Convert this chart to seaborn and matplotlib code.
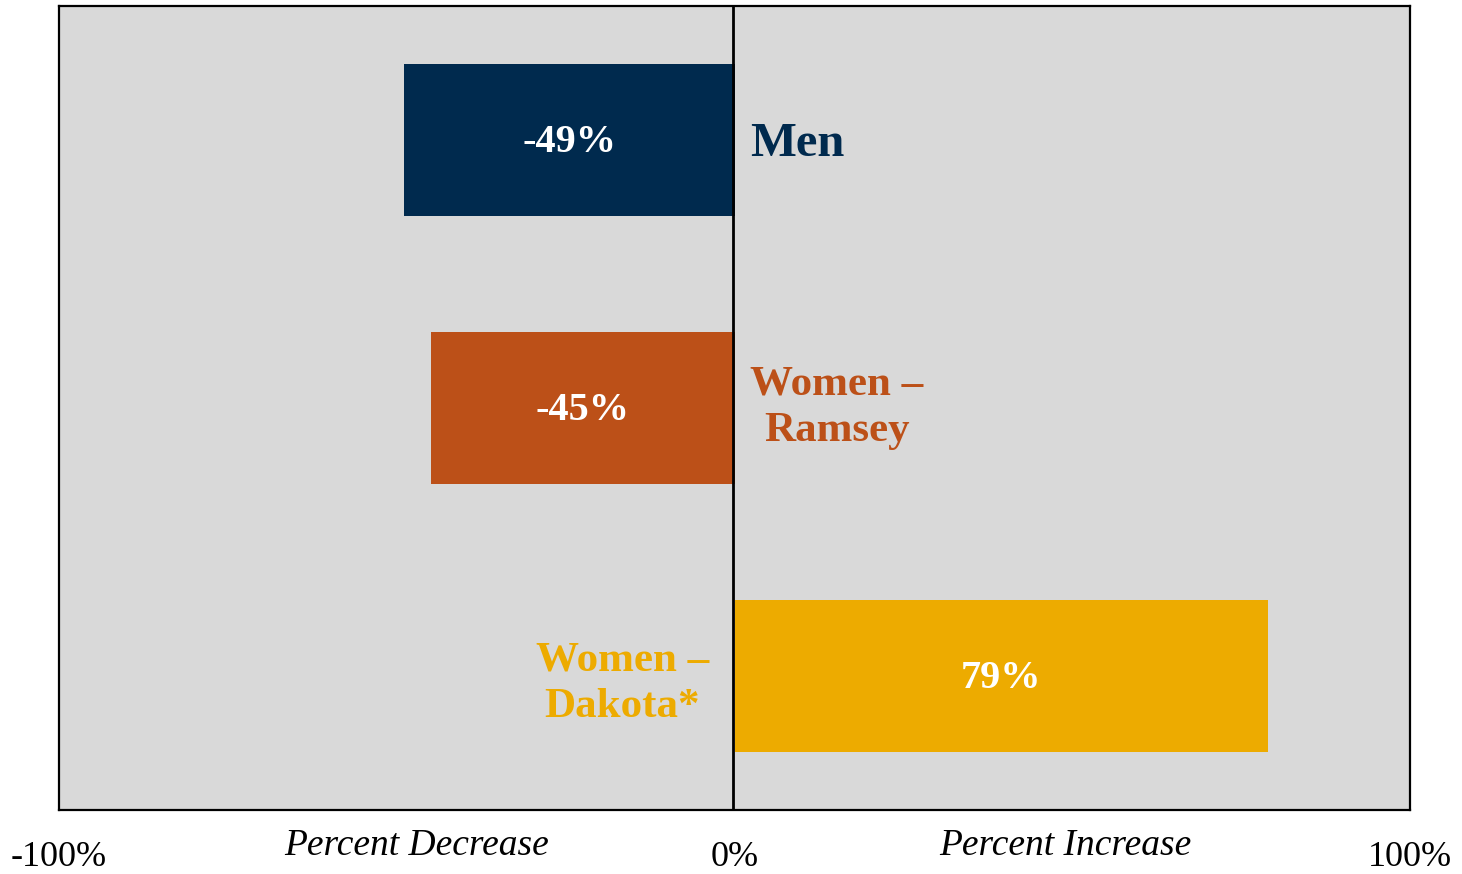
import matplotlib
matplotlib.use("Agg")
import matplotlib.pyplot as plt
import matplotlib.transforms as mtransforms
import seaborn as sns
import pandas as pd

categories = ["Men", "Women – Ramsey", "Women – Dakota*"]
display_labels = ["Men", "Women –\nRamsey", "Women –\nDakota*"]
values = [-49, -45, 79]
value_labels = ["-49%", "-45%", "79%"]
colors = ["#002A4E", "#BC5018", "#EDAB00"]
tick_values = [-100, 0, 100]
tick_labels = ["-100%", "0%", "100%"]
side_labels = ["Percent Decrease", "Percent Increase"]
side_positions = [-47, 49]

sns.set_theme(style="white")
plt.rcParams["font.family"] = ["Liberation Serif", "DejaVu Serif"]

df = pd.DataFrame({"category": categories, "value": values})

fig = plt.figure(figsize=(14.62, 8.74), dpi=100)
ax = fig.add_axes([59 / 1462, 1 - 810 / 874, (1410 - 59) / 1462, (810 - 6) / 874])
ax.set_facecolor("#D9D9D9")

sns.barplot(data=df, x="value", y="category", hue="category", palette=colors,
            orient="h", width=0.57, saturation=1, legend=False, ax=ax,
            linewidth=0, edgecolor="none")

ax.set_xlim(-100, 100)
ax.set_ylim(2.5, -0.5)
ax.axvline(-0.2, color="black", lw=2, zorder=5)

for sp in ax.spines.values():
    sp.set_visible(True)
    sp.set_color("black")
    sp.set_linewidth(1.6)

ax.set_yticks([])
ax.set_ylabel("")
ax.set_xlabel("")
ax.set_xticks(tick_values)
ax.set_xticklabels(tick_labels, fontsize=26, color="black")
ax.tick_params(axis="x", length=0, pad=22)

for i, (v, lab) in enumerate(zip(values, value_labels)):
    ax.text(v / 2, i + 0.01, lab, ha="center", va="center", color="white",
            fontsize=29, fontweight="bold")

# category labels
ax.text(2.3, 0.015, display_labels[0], ha="left", va="center", color=colors[0],
        fontsize=35, fontweight="bold")
ax.text(15.1, 1.0, display_labels[1], ha="center", va="center", color=colors[1],
        fontsize=31, fontweight="bold", linespacing=1.3)
ax.text(-16.6, 2.03, display_labels[2], ha="center", va="center", color=colors[2],
        fontsize=31, fontweight="bold", linespacing=1.3)

trans = mtransforms.blended_transform_factory(ax.transData, ax.transAxes)
for lab, xp in zip(side_labels, side_positions):
    ax.text(xp, -0.045, lab, transform=trans, ha="center", va="center",
            fontsize=27, fontstyle="italic", color="black")

fig.savefig("out.png", dpi=100)
